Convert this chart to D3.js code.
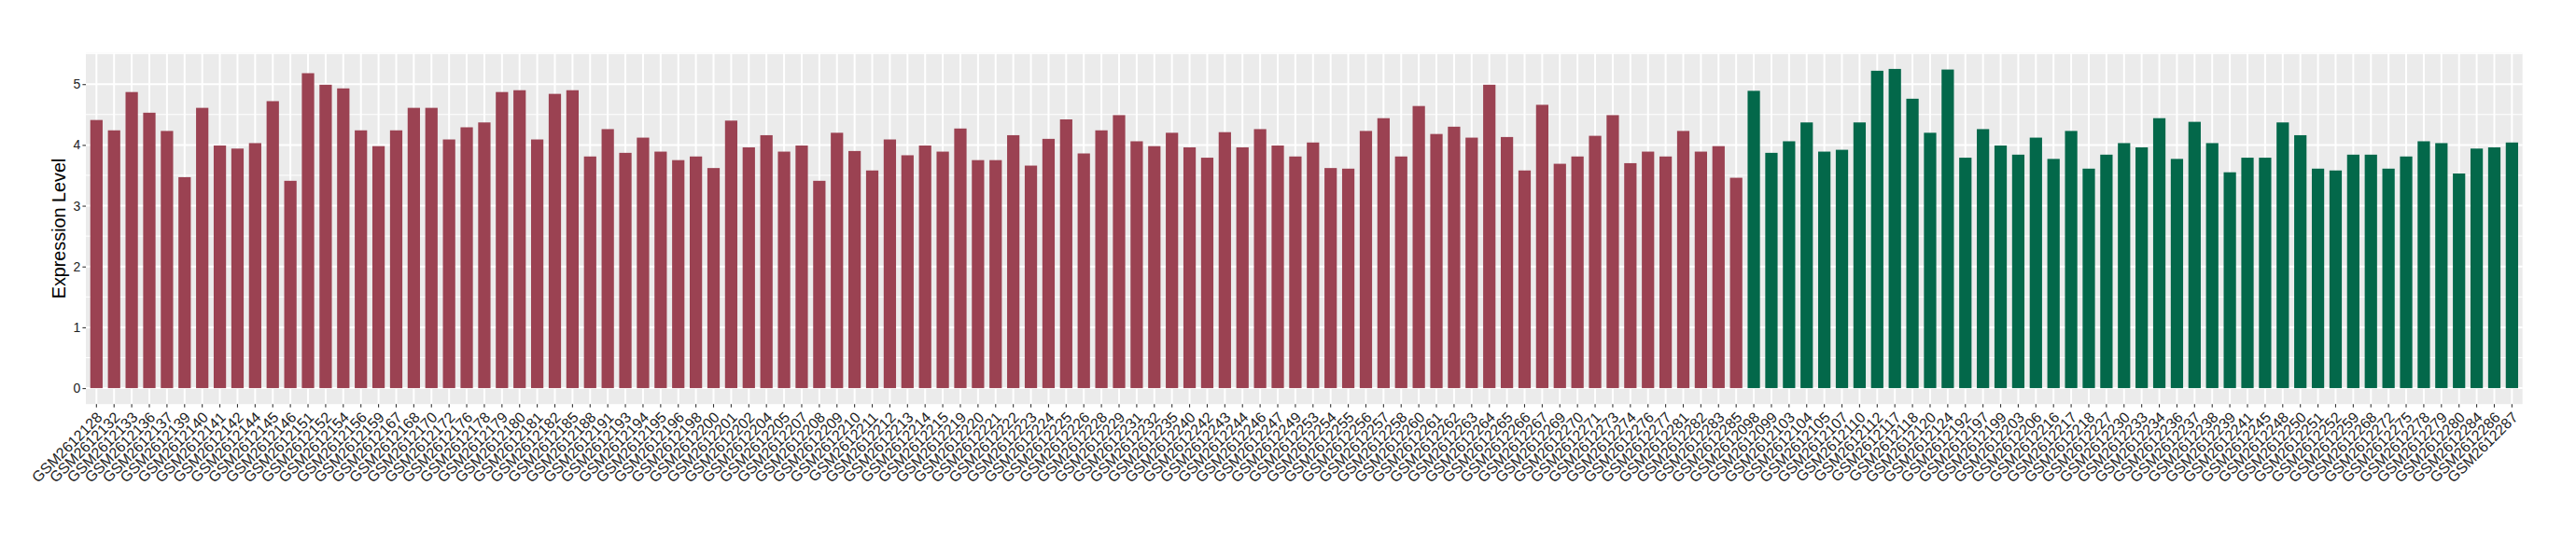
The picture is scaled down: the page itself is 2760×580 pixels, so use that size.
<!DOCTYPE html>
<html>
<head>
<meta charset="utf-8">
<script src="https://cdn.jsdelivr.net/npm/d3@7"></script>
<style>
  html, body { margin: 0; padding: 0; background: #ffffff; }
  svg { display: block; }
</style>
</head>
<body>
<svg id="chart" width="2760" height="580"></svg>
<script>
const redSamples = ["GSM2612128","GSM2612132","GSM2612133","GSM2612136","GSM2612137","GSM2612139","GSM2612140","GSM2612141","GSM2612142","GSM2612144","GSM2612145","GSM2612146","GSM2612151","GSM2612152","GSM2612154","GSM2612156","GSM2612159","GSM2612167","GSM2612168","GSM2612170","GSM2612172","GSM2612176","GSM2612178","GSM2612179","GSM2612180","GSM2612181","GSM2612182","GSM2612185","GSM2612188","GSM2612191","GSM2612193","GSM2612194","GSM2612195","GSM2612196","GSM2612198","GSM2612200","GSM2612201","GSM2612202","GSM2612204","GSM2612205","GSM2612207","GSM2612208","GSM2612209","GSM2612210","GSM2612211","GSM2612212","GSM2612213","GSM2612214","GSM2612215","GSM2612219","GSM2612220","GSM2612221","GSM2612222","GSM2612223","GSM2612224","GSM2612225","GSM2612226","GSM2612228","GSM2612229","GSM2612231","GSM2612232","GSM2612235","GSM2612240","GSM2612242","GSM2612243","GSM2612244","GSM2612246","GSM2612247","GSM2612249","GSM2612253","GSM2612254","GSM2612255","GSM2612256","GSM2612257","GSM2612258","GSM2612260","GSM2612261","GSM2612262","GSM2612263","GSM2612264","GSM2612265","GSM2612266","GSM2612267","GSM2612269","GSM2612270","GSM2612271","GSM2612273","GSM2612274","GSM2612276","GSM2612277","GSM2612281","GSM2612282","GSM2612283","GSM2612285"];
const redValues = [4.41,4.24,4.87,4.53,4.23,3.47,4.61,3.99,3.94,4.03,4.72,3.41,5.18,4.99,4.93,4.24,3.98,4.24,4.61,4.61,4.09,4.29,4.37,4.87,4.90,4.09,4.84,4.90,3.81,4.26,3.87,4.12,3.89,3.75,3.81,3.62,4.40,3.96,4.16,3.89,3.99,3.41,4.20,3.90,3.58,4.09,3.83,3.99,3.89,4.27,3.75,3.75,4.16,3.66,4.10,4.42,3.86,4.24,4.49,4.06,3.98,4.20,3.96,3.79,4.21,3.96,4.26,3.99,3.81,4.04,3.62,3.61,4.23,4.44,3.81,4.64,4.18,4.30,4.12,4.99,4.13,3.58,4.66,3.69,3.81,4.15,4.49,3.70,3.89,3.81,4.23,3.89,3.98,3.46];
const greenSamples = ["GSM2612098","GSM2612099","GSM2612103","GSM2612104","GSM2612105","GSM2612107","GSM2612110","GSM2612112","GSM2612117","GSM2612118","GSM2612120","GSM2612124","GSM2612192","GSM2612197","GSM2612199","GSM2612203","GSM2612206","GSM2612216","GSM2612217","GSM2612218","GSM2612227","GSM2612230","GSM2612233","GSM2612234","GSM2612236","GSM2612237","GSM2612238","GSM2612239","GSM2612241","GSM2612245","GSM2612248","GSM2612250","GSM2612251","GSM2612252","GSM2612259","GSM2612268","GSM2612272","GSM2612275","GSM2612278","GSM2612279","GSM2612280","GSM2612284","GSM2612286","GSM2612287"];
const greenValues = [4.89,3.87,4.06,4.37,3.89,3.92,4.37,5.22,5.25,4.76,4.20,5.24,3.79,4.26,3.99,3.84,4.12,3.77,4.23,3.61,3.84,4.03,3.96,4.44,3.77,4.38,4.03,3.55,3.79,3.79,4.37,4.16,3.61,3.58,3.84,3.84,3.61,3.81,4.06,4.03,3.53,3.94,3.96,4.04];
const yTicks = [0,1,2,3,4,5];
const yTitle = "Expression Level";
const groupColors = { red: "#9B4252", green: "#03684A" };

const rows = redSamples.map((s,i)=>({s, v: redValues[i], g: "red"}))
  .concat(greenSamples.map((s,i)=>({s, v: greenValues[i], g: "green"})));

const svg = d3.select("#chart");
const P = { left: 92, right: 2702.7, top: 56.8, bottom: 433.2 };
const font = "'Liberation Sans', Arial, Helvetica, sans-serif";

const x = d3.scaleBand().domain(rows.map(d=>d.s)).range([P.left, P.right])
  .paddingInner(0.3).paddingOuter(0.25);
const vmax = d3.max(rows, d=>d.v);
const y = d3.scaleLinear().domain([-0.05*vmax, vmax*1.05]).range([P.bottom, P.top]);

// panel
svg.append("rect").attr("x",P.left).attr("y",P.top).attr("width",P.right-P.left).attr("height",P.bottom-P.top).attr("fill","#EBEBEB");
// minor y grid
const minor = d3.range(0.5, 5.6, 1).filter(v=>y(v)>P.top);
svg.append("g").selectAll("line").data(minor).join("line")
  .attr("x1",P.left).attr("x2",P.right).attr("y1",d=>y(d)).attr("y2",d=>y(d))
  .attr("stroke","#ffffff").attr("stroke-width",1);
// major y grid
svg.append("g").selectAll("line").data(yTicks).join("line")
  .attr("x1",P.left).attr("x2",P.right).attr("y1",d=>y(d)).attr("y2",d=>y(d))
  .attr("stroke","#ffffff").attr("stroke-width",2);
// x grid
svg.append("g").selectAll("line").data(rows).join("line")
  .attr("x1",d=>x(d.s)+x.bandwidth()/2).attr("x2",d=>x(d.s)+x.bandwidth()/2)
  .attr("y1",P.top).attr("y2",P.bottom)
  .attr("stroke","#ffffff").attr("stroke-width",2);
// bars
svg.append("g").selectAll("rect").data(rows).join("rect")
  .attr("x",d=>x(d.s)).attr("width",x.bandwidth())
  .attr("y",d=>y(d.v)).attr("height",d=>y(0)-y(d.v))
  .attr("fill",d=>groupColors[d.g]);

// y axis
const yAxis = svg.append("g").attr("transform",`translate(${P.left},0)`)
  .call(d3.axisLeft(y).tickValues(yTicks).tickFormat(d3.format("d")).tickSize(3.6).tickPadding(2));
yAxis.select(".domain").remove();
yAxis.selectAll(".tick line").attr("stroke","#333333").attr("stroke-width",1.1);
yAxis.selectAll(".tick text").attr("fill","#222222").style("font-family",font).style("font-size","14px");

// x axis
const xAxis = svg.append("g").attr("transform",`translate(0,${P.bottom})`)
  .call(d3.axisBottom(x).tickSize(3.6).tickSizeOuter(0));
xAxis.select(".domain").remove();
xAxis.selectAll(".tick line").attr("stroke","#333333").attr("stroke-width",1.1);
xAxis.selectAll(".tick text")
  .attr("fill","#222222").style("font-family",font).style("font-size","16px")
  .attr("text-anchor","end")
  .attr("transform","translate(0,8) rotate(-45)")
  .attr("x",0).attr("y",0).attr("dy","0.645em");

// y title
svg.append("text")
  .attr("transform",`translate(70,${(P.top+P.bottom)/2}) rotate(-90)`)
  .attr("text-anchor","middle")
  .style("font-family",font).style("font-size","19.8px").attr("fill","#000000")
  .text(yTitle);
</script>
</body>
</html>
